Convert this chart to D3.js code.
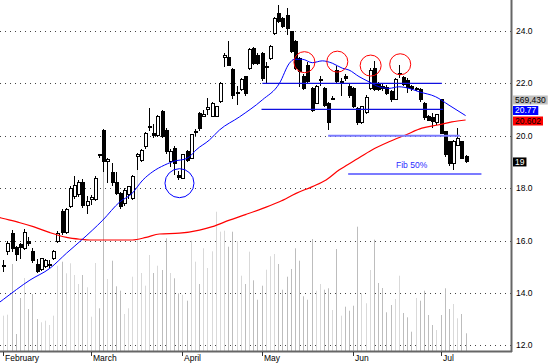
<!DOCTYPE html>
<html>
<head>
<meta charset="utf-8">
<script src="https://cdn.jsdelivr.net/npm/d3@7/dist/d3.min.js"></script>
<style>
  html, body { margin: 0; padding: 0; background: #fff; }
  svg { display: block; font-family: "Liberation Sans", Arial, sans-serif; }
</style>
</head>
<body>
<svg id="chart"></svg>
<script>
const width = 550;
const height = 364;

// daily bars, index 0 = first trading day of February
const opens = [15.0,15.57,16.28,15.75,15.85,15.7,15.98,15.57,15.1,14.9,15.0,15.05,15.3,15.96,17.1,16.3,17.3,17.7,17.75,18.2,
  17.35,17.55,17.55,19.28,20.2,19.0,18.6,18.2,17.8,17.4,17.75,17.6,19.2,19.07,19.58,20.3,20.1,20.0,20.93,20.22,
  19.01,19.52,18.5,18.38,19.4,19.14,20.12,20.86,20.75,21.0,20.72,20.73,21.3,23.0,23.0,22.54,21.6,21.75,22.25,22.55,
  23.34,23.08,23.15,22.6,22.96,23.91,24.68,24.49,24.61,23.97,23.59,22.95,22.26,22.7,21.81,21.24,22.1,21.81,21.25,21.4,
  22.51,22.03,22.26,21.9,21.82,21.06,20.5,20.87,21.8,22.55,21.95,21.9,21.85,21.68,21.37,22.33,22.24,22.1,21.9,21.78,
  21.78,21.25,20.72,20.68,20.49,21.37,20.16,19.77,18.95,19.63,19.77,19.2];
const highs = [15.25,16.0,16.4,15.8,15.9,16.45,16.15,15.73,15.3,15.32,15.3,15.25,15.65,16.35,17.2,17.25,18.1,18.45,18.3,18.35,
  17.7,17.75,18.45,19.3,20.25,19.15,18.97,18.6,17.85,18.0,18.1,18.5,19.33,19.5,20.15,21.05,20.45,20.8,21.0,20.3,
  19.5,19.6,18.65,19.3,19.45,20.05,20.25,20.9,21.0,21.43,21.3,21.15,22.05,23.15,23.6,22.6,21.9,22.2,22.3,23.35,
  23.4,23.15,23.2,22.83,23.45,24.55,24.99,24.55,24.87,24.0,23.65,23.0,22.35,22.8,21.85,21.95,22.3,21.85,21.3,21.5,
  22.65,22.2,22.35,22.0,21.85,21.1,21.15,21.55,22.6,22.85,22.05,22.0,21.95,21.75,22.2,22.72,22.3,22.2,21.95,21.85,
  21.82,21.3,20.78,20.87,20.85,21.4,20.2,19.8,19.84,20.3,19.8,19.25];
const lows = [14.8,15.45,15.55,15.2,15.3,15.65,15.8,15.15,14.75,14.85,14.95,14.95,15.25,15.9,16.2,16.25,17.25,17.6,17.65,17.25,
  17.0,17.35,17.5,19.15,18.6,18.2,18.1,17.75,17.2,17.3,17.6,17.55,18.7,19.0,19.5,20.2,19.9,19.95,19.9,19.3,
  18.8,18.5,18.3,18.35,19.0,19.1,20.0,20.2,20.7,20.79,20.7,20.7,21.25,22.64,22.65,21.4,21.17,21.7,21.5,22.5,
  22.7,22.7,22.1,22.0,22.9,23.85,24.3,24.1,23.85,23.15,22.5,21.85,21.75,22.0,20.9,21.2,21.9,21.1,20.22,21.35,
  22.0,21.5,22.1,21.45,21.05,20.4,20.45,20.85,21.75,21.7,21.7,21.7,21.55,21.3,21.35,22.2,21.9,21.65,21.7,21.7,
  21.3,20.6,20.55,20.3,20.4,20.05,19.2,18.85,18.7,19.6,19.1,18.95];
const closes = [15.05,15.9,15.7,15.45,15.75,16.3,15.9,15.25,14.8,15.3,15.25,15.1,15.6,16.28,16.3,17.2,18.0,18.1,18.2,17.35,
  17.5,17.65,18.38,19.25,19.0,19.1,18.2,17.8,17.3,17.9,18.05,18.45,19.28,19.45,20.1,20.35,20.0,20.75,19.96,19.39,
  19.39,18.95,18.4,19.27,19.07,20.03,20.17,20.29,20.8,21.09,21.25,21.11,22.0,23.05,22.7,21.55,21.65,22.16,21.6,23.3,
  22.77,22.77,22.19,22.66,23.4,24.49,24.36,24.17,24.1,23.21,22.58,22.45,21.81,22.07,20.98,21.87,22.13,21.17,20.49,21.43,
  22.07,22.06,22.2,21.55,21.11,20.49,21.1,21.48,22.5,21.75,21.75,21.8,21.6,21.37,22.13,22.36,21.94,21.85,21.8,21.8,
  21.37,20.68,20.6,20.53,20.8,20.1,19.27,18.95,19.77,19.9,19.13,19.0];
// volume in thousands of shares
const volumes = [1136,1168,2799,547,1705,2348,1351,1834,1029,923,975,836,1136,2744,2873,2500,2821,2445,2155,2445,
  2049,1103,2831,1374,6177,2316,2905,2081,1940,1190,1374,2390,6112,2509,2101,3088,2509,2744,2606,3626,
  2509,2339,1856,1811,1618,3548,2873,2155,3304,2670,3207,4481,3838,3870,3355,3838,3529,2422,2155,3195,
  2274,1650,2101,2615,3047,3120,2799,1972,2390,2638,3304,2905,1760,1650,3603,1940,2155,1972,2017,1319,
  3281,1136,1425,1296,1457,3999,1856,1535,2606,3581,2188,2027,1245,1480,1673,2422,1222,1084,621,1705,
  1618,1940,1158,836,676,1158,2017,1351,1512,1052,1190,569.43];

// moving averages: [bar index, price]
const maShort = [[-1,13.63],[0,13.75],[6.4,14.49],[11.2,14.94],[15.2,15.52],[18.8,16.02],[23.9,16.78],[28,17.48],[30.8,17.78],
  [33.5,18.31],[35.9,18.63],[38.7,18.88],[41.5,19.05],[43.5,19.1],[44.7,19.2],[46.3,19.46],[49.5,19.84],[51.9,20.22],
  [56.7,20.72],[62.2,21.37],[66.3,22.0],[68.7,22.77],[69.9,22.92],[71.8,22.92],[74.2,22.79],[76.6,22.86],[79,22.77],
  [81.4,22.58],[83,22.51],[85.4,22.26],[87.8,22.06],[90.2,21.87],[92.6,21.81],[95,21.87],[97.4,21.81],[99.8,21.68],
  [103.8,21.49],[107,21.17],[111,20.77]];
const maLong = [[-1,16.88],[0,16.84],[4,16.68],[7.2,16.53],[11.2,16.3],[15.2,16.12],[18.4,16.05],[20.8,16.02],[31,16.02],
  [34.3,16.12],[37.5,16.25],[42.3,16.28],[47.1,16.4],[50.2,16.53],[54.3,16.78],[58.3,17.0],[62.3,17.23],[66.3,17.48],
  [70.3,17.8],[74.2,18.06],[77.5,18.31],[80.6,18.69],[84.6,19.08],[88.5,19.46],[92.6,19.77],[96.6,20.03],[100.5,20.29],
  [104.6,20.42],[107.7,20.53],[111,20.602]];

const months = ['February','March','April','May','Jun','Jul'];
const monthStart = [0,21,43,62,84,105];
const priceTicks = [12,14,16,18,20,22,24];

// drawn annotations
const levelLines = [
  {price: 22.0, from: 62.2, to: 105.3, kind: 'dark'},
  {price: 21.01, from: 62, to: 105.6, kind: 'dark'},
  {price: 20.0, from: 78, to: 109.6, kind: 'light'},
  {price: 18.54, from: 82.8, to: 114.8, kind: 'light'}
];
const redCircles = [[72.3,22.81],[80.2,22.83],[88.2,22.68],[95.3,22.73]];
const blueCircles = [[42.3,18.19]];

const bars = opens.map((o,i)=>({i, o, h: highs[i], l: lows[i], c: closes[i], v: volumes[i]}));

const plotRight = 511;
const plotBottom = 351;

const x = d3.scaleLinear().domain([0,111]).range([3.3,465.6]);
const y = d3.scaleLinear().domain([12,24]).range([345.3,31]);
const yVol = d3.scaleLinear().domain([0,7000]).range([plotBottom, plotBottom - 7000/32.17]);
const px = i => Math.round(x(i));

const svg = d3.select('#chart').attr('width',width).attr('height',height);
svg.append('rect').attr('width',width).attr('height',height).attr('fill','#fff');

svg.append('clipPath').attr('id','plot')
  .append('rect').attr('x',0).attr('y',0).attr('width',plotRight).attr('height',plotBottom);

const plot = svg.append('g').attr('clip-path','url(#plot)');

// grid
plot.selectAll('.grid').data(priceTicks).enter()
  .append('line')
    .attr('x1',0).attr('x2',plotRight)
    .attr('y1',d=>Math.round(y(d))+0.5).attr('y2',d=>Math.round(y(d))+0.5)
    .attr('stroke','#444').attr('stroke-dasharray','1,4');

// volume
plot.selectAll('.vol').data(bars).enter()
  .append('rect')
    .attr('x',d=>px(d.i))
    .attr('width',1)
    .attr('y',d=>yVol(d.v))
    .attr('height',d=>plotBottom - yVol(d.v))
    .attr('fill',d=>d.c < d.o ? '#bdbdbd' : '#d9d9d9');

// candles
const candle = plot.selectAll('.candle').data(bars).enter().append('g').attr('shape-rendering','crispEdges');
candle.append('line')
  .attr('x1',d=>px(d.i)+0.5).attr('x2',d=>px(d.i)+0.5)
  .attr('y1',d=>y(d.h)).attr('y2',d=>y(d.l))
  .attr('stroke','#000');
candle.append('rect')
  .attr('x',d=>px(d.i)-1)
  .attr('width',3)
  .attr('y',d=>y(Math.max(d.o,d.c)))
  .attr('height',d=>Math.max(1, Math.abs(y(d.o)-y(d.c))))
  .attr('fill',d=>d.c >= d.o ? '#fff' : '#000')
  .attr('stroke','#000');

// moving averages
const maLine = d3.line().x(d=>x(d[0])).y(d=>y(d[1])).curve(d3.curveMonotoneX);
plot.append('path').datum(maLong).attr('d',maLine)
  .attr('fill','none').attr('stroke','#ff0000').attr('stroke-width',1.2);
plot.append('path').datum(maShort).attr('d',maLine)
  .attr('fill','none').attr('stroke','#0000ff').attr('stroke-width',1);

// annotations
plot.selectAll('.level').data(levelLines).enter()
  .append('line')
    .attr('x1',d=>x(d.from)).attr('x2',d=>x(d.to))
    .attr('y1',d=>y(d.price)).attr('y2',d=>y(d.price))
    .attr('stroke',d=>d.kind==='dark' ? '#1010e0' : '#7b7bff')
    .attr('stroke-width',d=>d.kind==='dark' ? 1.3 : 2);

svg.append('text')
  .attr('x',x(94.3)).attr('y',y(18.54)-6)
  .attr('font-size',8.5).attr('fill','#2a2aff')
  .text('Fib 50%');

plot.selectAll('.rc').data(redCircles).enter()
  .append('circle')
    .attr('cx',d=>x(d[0])).attr('cy',d=>y(d[1])).attr('r',10.5)
    .attr('fill','none').attr('stroke','#ff0000');
plot.selectAll('.bc').data(blueCircles).enter()
  .append('circle')
    .attr('cx',d=>x(d[0])).attr('cy',d=>y(d[1])).attr('r',14.5)
    .attr('fill','none').attr('stroke','#0000ff');

// frame
svg.append('line').attr('x1',0).attr('x2',plotRight+1).attr('y1',plotBottom+0.5).attr('y2',plotBottom+0.5)
  .attr('stroke','#666').attr('stroke-width',2);
svg.append('line').attr('x1',plotRight+0.5).attr('x2',plotRight+0.5).attr('y1',0).attr('y2',plotBottom+1)
  .attr('stroke','#666').attr('stroke-width',2);

// month axis
const mAxis = svg.append('g');
monthStart.forEach((idx,k)=>{
  mAxis.append('line')
    .attr('x1',px(idx)+0.5).attr('x2',px(idx)+0.5)
    .attr('y1',plotBottom+1).attr('y2',plotBottom+5)
    .attr('stroke','#333');
  mAxis.append('text')
    .attr('x',px(idx)+2).attr('y',361)
    .attr('font-size',8.5).attr('fill','#000')
    .text(months[k]);
});

// price axis
svg.selectAll('.ptick').data(priceTicks).enter()
  .append('text')
    .attr('x',516).attr('y',d=>y(d)+3)
    .attr('font-size',8.5).attr('fill','#000')
    .text(d=>d.toFixed(1));

// last value tags
const lastClose = closes[closes.length-1];
const lastVol = volumes[volumes.length-1];
const tags = [
  {t: '20.602', cy: y(maLong[maLong.length-1][1]) + 1, bg: '#ff0000', fg: '#000'},
  {t: '20.77', cy: null, bg: '#0000ff', fg: '#fff', v: maShort[maShort.length-1][1]},
  {t: d3.format(',')(Math.round(lastVol*1000)), cy: null, bg: '#c0c0c0', fg: '#000'},
  {t: String(Math.round(lastClose)), cy: y(lastClose), bg: '#000', fg: '#fff'}
];
tags[1].cy = Math.min(y(tags[1].v), tags[0].cy - 10.5);
tags[2].cy = tags[1].cy - 10.5;

tags.forEach(tg=>{
  const g = svg.append('g');
  const txt = g.append('text')
    .attr('x',515).attr('y',tg.cy+3)
    .attr('font-size',8.5).attr('fill',tg.fg)
    .text(tg.t);
  const w = txt.node().getComputedTextLength();
  g.insert('rect','text')
    .attr('x',513).attr('y',tg.cy-4.5)
    .attr('width',w+4).attr('height',9)
    .attr('fill',tg.bg);
});
</script>
</body>
</html>
